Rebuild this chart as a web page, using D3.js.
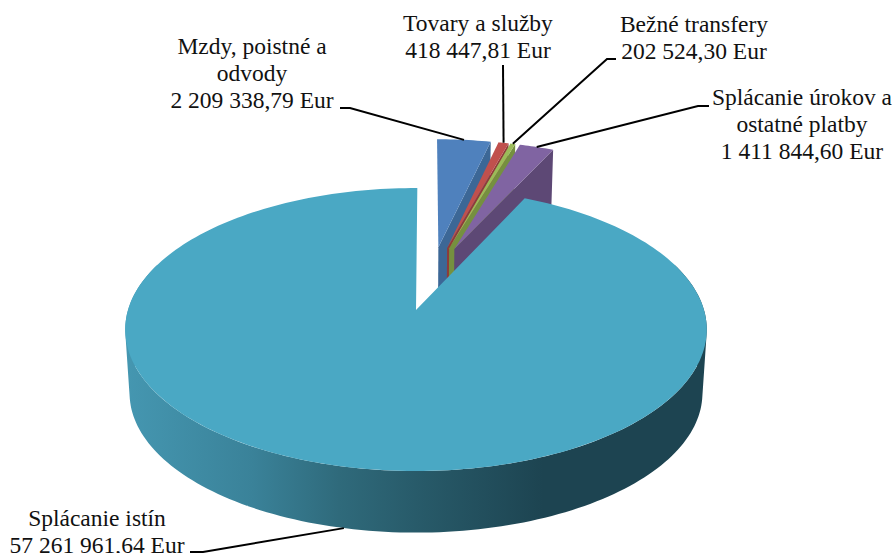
<!DOCTYPE html>
<html>
<head>
<meta charset="utf-8">
<script src="https://cdn.jsdelivr.net/npm/d3@7"></script>
<style>
html,body{margin:0;padding:0;background:#fff;overflow:hidden}
svg{display:block}
text{font-family:"Liberation Serif","Times New Roman",serif;font-size:23.5px;fill:#111;text-anchor:middle}
</style>
</head>
<body>
<svg id="c" width="895" height="553"></svg>
<script>
// data
const categories = ["Mzdy, poistné a odvody","Tovary a služby","Bežné transfery","Splácanie úrokov a ostatné platby","Splácanie istín"];
const values = [2209338.79,418447.81,202524.30,1411844.60,57261961.64];
const valueLabels = ["2 209 338,79 Eur","418 447,81 Eur","202 524,30 Eur","1 411 844,60 Eur","57 261 961,64 Eur"];
const labelLines = [["Mzdy, poistné a","odvody"],["Tovary a služby"],["Bežné transfery"],["Splácanie úrokov a","ostatné platby"],["Splácanie istín"]];
// styles
const topColors = ["#4f81bd","#c0504d","#9bbb59","#8064a2","#4aa8c4"];
const sideColors = ["#3c6796","#8f3b39","#75903f","#5d4875","#1d4451"];
// layout of the labels and their leader lines
const labelCenter = [252,478,694,802,97];
const labelFirstBaseline = [54,31,32,105,526];
const labelStep = 27.2;
const knees = [[[340,108],[350,108]],[[503,65]],[[616,59],[607,59]],[[709,106],[698,106]],[[190,552],[203,552]]];

// projection of the tilted disc
const ox=416, oy=310, A=288, B=138.8, K=0.138, EXPLODE=0.245, DROP=64, SHRINK=0.985;
function project(u,v,low){
  const w=1+K*v; let X=A*u/w, Y=B*v/w;
  if(low){X*=SHRINK;Y=Y*SHRINK-DROP;}
  return [ox+X,oy-Y];
}
const rad=d=>d*Math.PI/180;
const dir=a=>[Math.sin(a),Math.cos(a)];

const arcs=d3.pie().value(d=>d).sort(null).startAngle(rad(0.3)).endAngle(rad(360.3))(values);
const bis=a=>(a.startAngle+a.endAngle)/2;
const bigDir=dir(bis(arcs[4]));
const c0=[-EXPLODE*bigDir[0],-EXPLODE*bigDir[1]];
arcs.forEach((a,i)=>{
  const d=dir(bis(a));
  a.tip=i===4?[0,0]:[c0[0]+EXPLODE*d[0],c0[1]+EXPLODE*d[1]];
});
const rim=(a,ang)=>{const d=dir(ang);return [a.tip[0]+d[0],a.tip[1]+d[1]];};

const svg=d3.select("#c");
const line=d3.line();
const defs=svg.append("defs");
const gradX=d3.scaleLinear().domain([0,1]).range([124,706]);
const grad=defs.append("linearGradient").attr("id","wall").attr("gradientUnits","userSpaceOnUse")
  .attr("x1",gradX(0)).attr("x2",gradX(1)).attr("y1",0).attr("y2",0);
[[0,"#4597b1"],[.22,"#3a8299"],[.37,"#2f6a7b"],[.5,"#285b6a"],[.72,"#1d4451"],[1,"#1d4451"]]
  .forEach(s=>grad.append("stop").attr("offset",s[0]).attr("stop-color",s[1]));

function sweep(a,a0,a1,n){
  return d3.range(n+1).map(i=>rim(a,a0+(a1-a0)*i/n));
}
// small slices, back to front
arcs.slice(0,4).forEach((a,i)=>{
  const tip=a.tip, r=rim(a,a.endAngle);
  const face=[project(tip[0],tip[1]),project(r[0],r[1]),project(r[0],r[1],true),project(tip[0],tip[1],true)];
  svg.append("path").attr("d",line(face)+"Z").attr("fill",sideColors[i]);
  const top=[tip].concat(sweep(a,a.startAngle,a.endAngle,12)).map(p=>project(p[0],p[1]));
  svg.append("path").attr("d",line(top)+"Z").attr("fill",topColors[i]);
});
// large slice: the wall is the swept band between the upper and lower rim
const big=arcs[4];
const wallPts=sweep(big,rad(70),rad(290),160);
let wallD="";
d3.pairs(wallPts).forEach(([p,q])=>{
  let quad=[project(p[0],p[1]),project(q[0],q[1]),project(q[0],q[1],true),project(p[0],p[1],true)];
  if(d3.polygonArea(quad)<0) quad=quad.reverse();
  wallD+=line(quad)+"Z";
});
svg.append("path").attr("d",wallD).attr("fill","url(#wall)");
const bigTop=[big.tip].concat(sweep(big,big.startAngle,big.endAngle,240)).map(p=>project(p[0],p[1]));
svg.append("path").attr("d",line(bigTop)+"Z").attr("fill",topColors[4]);

// leader lines
arcs.forEach((a,i)=>{
  const r=rim(a,bis(a));
  const end=project(r[0],r[1],i===4);
  svg.append("path").attr("d",line(knees[i].concat([end]))).attr("fill","none").attr("stroke","#000").attr("stroke-width",2);
});
// labels
categories.forEach((c,i)=>{
  const t=svg.append("text");
  labelLines[i].concat([valueLabels[i]]).forEach((l,j)=>{
    t.append("tspan").attr("x",labelCenter[i]).attr("y",labelFirstBaseline[i]+j*labelStep).text(l);
  });
});
</script>
</body>
</html>
